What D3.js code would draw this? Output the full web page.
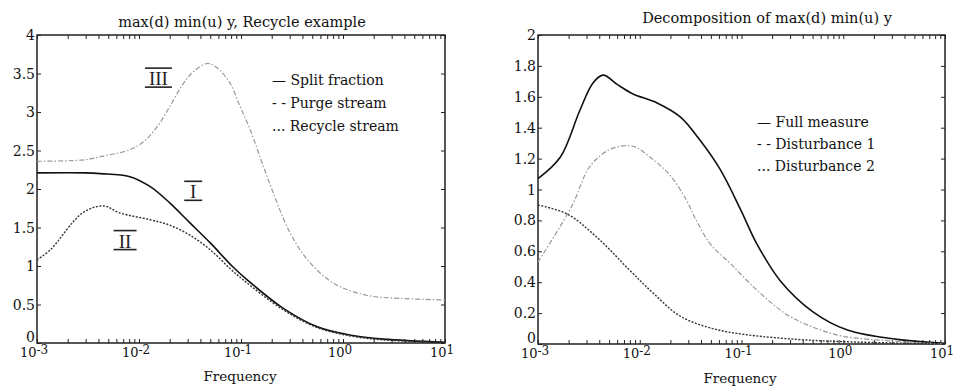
<!DOCTYPE html>
<html>
<head>
<meta charset="utf-8">
<script src="https://cdn.jsdelivr.net/npm/d3@7"></script>
<style>
  body { margin: 0; background: #fff; }
  svg { font-family: "DejaVu Serif", "Liberation Serif", serif; }
</style>
</head>
<body>
<svg width="955" height="387"></svg>
<script>
// left panel: max(d) min(u) y
const splitFreq = [0.001, 0.003, 0.00417, 0.00813, 0.0129, 0.02, 0.0316, 0.05, 0.083, 0.115, 0.26, 0.56, 1.2, 2.5, 10];
const splitVal  = [2.21, 2.21, 2.20, 2.16, 2.03, 1.82, 1.56, 1.30, 0.99, 0.82, 0.45, 0.21, 0.10, 0.05, 0.01];
const purgeFreq = [0.001, 0.00135, 0.0028, 0.0045, 0.00646, 0.0129, 0.02, 0.0316, 0.05, 0.0776, 0.105, 0.26, 0.56, 1.2, 2.5, 10];
const purgeVal  = [1.08, 1.21, 1.69, 1.78, 1.69, 1.60, 1.53, 1.40, 1.21, 0.97, 0.82, 0.43, 0.20, 0.09, 0.04, 0.01];
const recycleFreq = [0.001, 0.003, 0.00417, 0.00813, 0.011, 0.0151, 0.02, 0.0269, 0.0339, 0.0468, 0.0575, 0.0776, 0.098, 0.123, 0.166, 0.19, 0.3, 0.45, 0.8, 1.7, 3.6, 10];
const recycleVal  = [2.36, 2.38, 2.42, 2.51, 2.61, 2.81, 3.07, 3.36, 3.52, 3.63, 3.58, 3.38, 3.07, 2.77, 2.29, 2.08, 1.44, 1.08, 0.78, 0.62, 0.58, 0.56];

// right panel: decomposition
const fullFreq = [0.001, 0.00166, 0.00257, 0.00347, 0.00437, 0.006, 0.0085, 0.0148, 0.025, 0.039, 0.0617, 0.098, 0.141, 0.24, 0.5, 1.1, 3.4, 10];
const fullVal  = [1.07, 1.21, 1.51, 1.69, 1.74, 1.68, 1.62, 1.56, 1.47, 1.32, 1.13, 0.87, 0.65, 0.41, 0.21, 0.09, 0.03, 0.005];
const dist1Freq = [0.001, 0.00214, 0.00324, 0.00513, 0.0085, 0.0126, 0.02, 0.0288, 0.0347, 0.049, 0.078, 0.141, 0.28, 0.5, 1.0, 3, 10];
const dist1Val  = [0.53, 0.89, 1.15, 1.26, 1.28, 1.21, 1.09, 0.93, 0.82, 0.65, 0.52, 0.35, 0.19, 0.11, 0.05, 0.02, 0.0];
const dist2Freq = [0.001, 0.00195, 0.0038, 0.0079, 0.0135, 0.025, 0.052, 0.112, 0.35, 1, 10];
const dist2Val  = [0.9, 0.84, 0.69, 0.48, 0.33, 0.18, 0.10, 0.06, 0.03, 0.015, 0.0];

const decades = [-3, -2, -1, 0, 1];
const leftYTicks = [0, 0.5, 1, 1.5, 2, 2.5, 3, 3.5, 4];
const rightYTicks = [0, 0.2, 0.4, 0.6, 0.8, 1, 1.2, 1.4, 1.6, 1.8, 2];

// hand-written curve labels (freq, value)
const numerals = [
  {t: "III", f: 0.0155, v: 3.44, w: 27},
  {t: "I", f: 0.034, v: 1.97, w: 18},
  {t: "II", f: 0.0073, v: 1.33, w: 23}
];

const svg = d3.select("svg");

const styles = {
  solid:   {stroke: "#111", width: 1.6, dash: null},
  dashed:  {stroke: "#333", width: 1.4, dash: "2,1.5"},
  dashdot: {stroke: "#999", width: 1.2, dash: "5,2,1.5,2"}
};

function drawPanel(p) {
  const g = svg.append("g");
  const x = d3.scaleLog().domain([1e-3, 10]).range([p.x0, p.x1]);
  const y = d3.scaleLinear().domain([0, p.ymax]).range([p.y1, p.y0]);

  // frame
  g.append("rect").attr("x", p.x0).attr("y", p.y0)
    .attr("width", p.x1 - p.x0).attr("height", p.y1 - p.y0)
    .attr("fill", "none").attr("stroke", "#111").attr("stroke-width", 1.4);

  const logTicks = x.ticks();
  g.append("g").attr("transform", `translate(0,${p.y1})`)
    .call(d3.axisBottom(x).tickValues(logTicks).tickSize(-4).tickFormat(""))
    .call(a => a.select(".domain").remove());
  g.append("g").attr("transform", `translate(0,${p.y0})`)
    .call(d3.axisTop(x).tickValues(logTicks).tickSize(-4).tickFormat(""))
    .call(a => a.select(".domain").remove());
  g.append("g").attr("transform", `translate(${p.x0},0)`)
    .call(d3.axisLeft(y).tickValues(p.yTicks).tickSize(-4).tickFormat(""))
    .call(a => a.select(".domain").remove());
  g.append("g").attr("transform", `translate(${p.x1},0)`)
    .call(d3.axisRight(y).tickValues(p.yTicks).tickSize(-4).tickFormat(""))
    .call(a => a.select(".domain").remove());
  g.selectAll(".tick line").attr("stroke", "#222");

  // y labels
  g.selectAll(".ylab").data(p.yTicks).join("text")
    .attr("x", p.x0 - 2).attr("y", d => d === 0 ? y(d) - 1 : y(d) + 5)
    .attr("text-anchor", "end").attr("font-size", 14).attr("fill", "#111")
    .text(d => d);

  // x labels 10^n
  const xl = g.selectAll(".xlab").data(decades).join("text")
    .attr("x", d => x(Math.pow(10, d)) - 3).attr("y", p.y1 + 14)
    .attr("text-anchor", "middle").attr("font-size", 13).attr("fill", "#111");
  xl.append("tspan").text("10");
  xl.append("tspan").attr("dy", -3).attr("font-size", 12).text(d => d);

  g.append("text").attr("x", p.titleX).attr("y", p.titleY)
    .attr("text-anchor", "middle").attr("font-size", 14.5).attr("fill", "#111").text(p.title);
  g.append("text").attr("x", p.xlabX).attr("y", p.xlabY)
    .attr("text-anchor", "middle").attr("font-size", 13.5).attr("fill", "#111").text("Frequency");

  const line = d3.line().x(d => x(d[0])).y(d => y(d[1])).curve(d3.curveCatmullRom.alpha(0.5));
  p.series.forEach(s => {
    const st = styles[s.style];
    g.append("path").datum(d3.zip(s.freq, s.val))
      .attr("d", line).attr("fill", "none")
      .attr("stroke", st.stroke).attr("stroke-width", st.width)
      .attr("stroke-dasharray", st.dash);
  });

  // legend
  p.series.forEach((s, i) => {
    const ly = p.legY + i * p.legStep;
    g.append("text").attr("x", p.legX).attr("y", ly + 5)
      .attr("font-size", 14).attr("fill", "#111")
      .text(s.mark + " " + s.name);
  });
  return {x, y, g};
}

const left = drawPanel({
  x0: 37, x1: 445, y0: 35, y1: 343, ymax: 4, yTicks: leftYTicks,
  title: "max(d) min(u) y, Recycle example", titleX: 242, titleY: 27,
  xlabX: 240, xlabY: 381,
  legX: 272, legY: 80, legStep: 23,
  series: [
    {name: "Split fraction", freq: splitFreq, val: splitVal, style: "solid", mark: "\u2014"},
    {name: "Purge stream", freq: purgeFreq, val: purgeVal, style: "dashed", mark: "- -"},
    {name: "Recycle stream", freq: recycleFreq, val: recycleVal, style: "dashdot", mark: "..."}
  ]
});

drawPanel({
  x0: 538, x1: 945, y0: 35, y1: 344, ymax: 2, yTicks: rightYTicks,
  title: "Decomposition of max(d) min(u) y", titleX: 767, titleY: 23,
  xlabX: 740, xlabY: 383,
  legX: 757, legY: 122, legStep: 22,
  series: [
    {name: "Full measure", freq: fullFreq, val: fullVal, style: "solid", mark: "\u2014"},
    {name: "Disturbance 1", freq: dist1Freq, val: dist1Val, style: "dashdot", mark: "- -"},
    {name: "Disturbance 2", freq: dist2Freq, val: dist2Val, style: "dashed", mark: "..."}
  ]
});

numerals.forEach(n => {
  const cx = left.x(n.f), cy = left.y(n.v);
  left.g.append("text").attr("x", cx).attr("y", cy + 7)
    .attr("text-anchor", "middle").attr("font-size", 19)
    .attr("font-family", "Liberation Serif").attr("fill", "#222")
    .text(n.t);
  [-10, 9].forEach(dy => {
    left.g.append("line").attr("x1", cx - n.w / 2).attr("x2", cx + n.w / 2)
      .attr("y1", cy + dy).attr("y2", cy + dy)
      .attr("stroke", "#222").attr("stroke-width", 1.6);
  });
});
</script>
</body>
</html>
